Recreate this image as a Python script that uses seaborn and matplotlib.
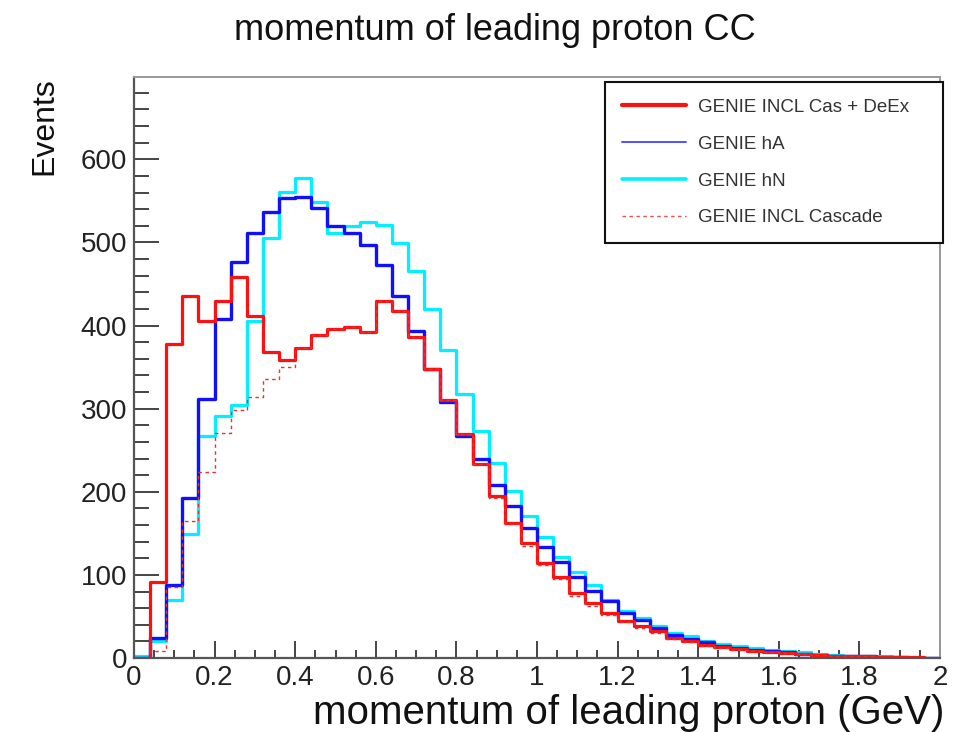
import numpy as np
import pandas as pd
import matplotlib
matplotlib.use("Agg")
import matplotlib.pyplot as plt
from matplotlib.lines import Line2D
from matplotlib.ticker import MultipleLocator, FuncFormatter
import seaborn as sns

# binning of the histogram (GeV)
p_min, p_max, n_bins = 0.0, 2.0, 50

# events per bin
incl_deex = [0, 92, 378, 436, 406, 430, 458, 412, 368, 359,
             373, 388, 396, 398, 392, 430, 418, 386, 348, 310,
             269, 233, 195, 163, 138, 114, 98, 78, 66, 54,
             44, 38, 32, 24, 20, 16, 13, 11, 9, 7,
             6, 5, 4, 3, 2, 2, 1, 1, 1, 0]
genie_hA = [0, 24, 88, 193, 312, 408, 477, 511, 537, 553,
            555, 541, 520, 511, 497, 473, 436, 394, 348, 308,
            267, 239, 208, 183, 157, 134, 115, 98, 81, 68,
            54, 46, 36, 28, 23, 19, 15, 12, 10, 8,
            7, 5, 4, 3, 2, 2, 1, 1, 0, 0]
genie_hN = [2, 20, 70, 149, 267, 291, 304, 406, 505, 561,
            578, 549, 511, 520, 525, 521, 499, 465, 420, 370,
            318, 273, 235, 201, 171, 145, 122, 103, 88, 70,
            56, 48, 38, 30, 26, 20, 17, 14, 12, 10,
            8, 7, 5, 4, 3, 2, 2, 1, 1, 0]
incl_cascade = [0, 8, 85, 165, 224, 271, 298, 314, 336, 350,
                373, 388, 396, 398, 392, 430, 418, 386, 348, 310,
                269, 233, 192, 161, 135, 112, 95, 75, 63, 52,
                43, 36, 30, 23, 19, 15, 12, 10, 8, 7,
                6, 5, 4, 3, 2, 2, 1, 1, 0, 0]

labels = ["GENIE INCL Cas + DeEx", "GENIE hA", "GENIE hN", "GENIE INCL Cascade"]

edges = np.linspace(p_min, p_max, n_bins + 1)
centers = 0.5 * (edges[:-1] + edges[1:])

sns.set_theme(style="white")
plt.rcParams['font.family'] = ['Liberation Sans', 'DejaVu Sans']

fig = plt.figure(figsize=(9.71, 7.32), dpi=100)
ax = fig.add_axes([134 / 971, 1 - 658 / 732, 806 / 971, 581 / 732])

styles = {
    "GENIE hN": dict(color="#00f0ff", linewidth=2.3, linestyle="-"),
    "GENIE hA": dict(color="#1010ff", linewidth=2.4, linestyle="-"),
    "GENIE INCL Cas + DeEx": dict(color="#ff1010", linewidth=2.3, linestyle="-"),
    "GENIE INCL Cascade": dict(color="#e83030", linewidth=1.0, linestyle=(0, (2.5, 2.5))),
}
counts = {
    "GENIE hN": genie_hN,
    "GENIE hA": genie_hA,
    "GENIE INCL Cas + DeEx": incl_deex,
    "GENIE INCL Cascade": incl_cascade,
}

# draw order: cyan underneath, dotted cascade on top
for name in ["GENIE hN", "GENIE hA", "GENIE INCL Cas + DeEx", "GENIE INCL Cascade"]:
    df = pd.DataFrame({"p": centers, "n": counts[name]})
    sns.histplot(data=df, x="p", weights="n", bins=n_bins, binrange=(p_min, p_max),
                 element="step", fill=False, ax=ax, **styles[name])

ax.set_xlim(p_min, p_max)
ax.set_ylim(0, 699)

ax.xaxis.set_major_locator(MultipleLocator(0.2))
ax.xaxis.set_minor_locator(MultipleLocator(0.05))
ax.yaxis.set_major_locator(MultipleLocator(100))
ax.yaxis.set_minor_locator(MultipleLocator(20))
ax.xaxis.set_major_formatter(FuncFormatter(lambda v, pos: "%g" % round(v, 2)))

ax.tick_params(axis="both", which="both", direction="in", colors="#444444",
               labelcolor="#222222", labelsize=20, top=False, right=False,
               bottom=True, left=True)
ax.tick_params(axis="y", which="major", length=18, width=1.4, pad=5)
ax.tick_params(axis="y", which="minor", length=10.5, width=1.4)
ax.tick_params(axis="x", which="major", length=12, width=1.4, pad=5)
ax.tick_params(axis="x", which="minor", length=6, width=1.4)

for side in ["left", "bottom"]:
    ax.spines[side].set_color("#555555")
    ax.spines[side].set_linewidth(1.6)
for side in ["top", "right"]:
    ax.spines[side].set_color("#999999")
    ax.spines[side].set_linewidth(1.4)

ax.set_xlabel("momentum of leading proton (GeV)", fontsize=29, loc="right",
              color="#111111")
ax.xaxis.set_label_coords(1.006, -0.062)
ax.set_ylabel("Events", fontsize=23, loc="top", color="#111111")
ax.yaxis.set_label_coords(-0.092, 1.0)

fig.text(495 / 971, 1 - 30 / 732, "momentum of leading proton CC",
         ha="center", va="center", fontsize=26, color="#111111")

handles = [
    Line2D([], [], color="#ff1010", linewidth=3.0),
    Line2D([], [], color="#5050ff", linewidth=1.4),
    Line2D([], [], color="#00f0ff", linewidth=2.6),
    Line2D([], [], color="#e85050", linewidth=1.0, linestyle=(0, (2.5, 2.5))),
]
leg = fig.legend(handles, labels, loc="upper left",
                 bbox_to_anchor=(605 / 971, 1 - 82 / 732, 338 / 971, 0.0),
                 mode="expand", borderaxespad=0, fontsize=13.5,
                 handlelength=3.4, handletextpad=0.65, borderpad=0.9,
                 labelspacing=1.05, fancybox=False, framealpha=1)
leg.get_frame().set_edgecolor("#111111")
leg.get_frame().set_linewidth(1.5)
for t in leg.get_texts():
    t.set_color("#333333")

fig.savefig("out.png", dpi=100)
